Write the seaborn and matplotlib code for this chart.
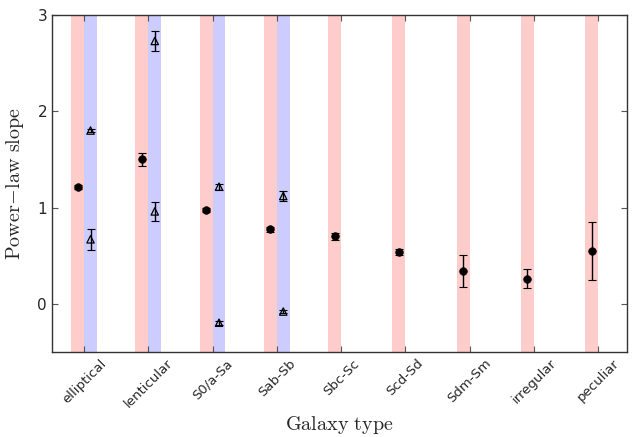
import matplotlib
matplotlib.use("Agg")
import matplotlib.pyplot as plt
import seaborn as sns
import numpy as np
import pandas as pd

categories = ["elliptical", "lenticular", "S0/a-Sa", "Sab-Sb", "Sbc-Sc",
              "Scd-Sd", "Sdm-Sm", "irregular", "peculiar"]
dot_values = [1.21, 1.50, 0.975, 0.776, 0.70, 0.535, 0.34, 0.26, 0.55]
dot_errors = [0.02, 0.07, 0.025, 0.025, 0.04, 0.03, 0.17, 0.10, 0.30]

# triangle series (only first four categories)
tri_categories = ["elliptical", "elliptical", "lenticular", "lenticular",
                  "S0/a-Sa", "S0/a-Sa", "Sab-Sb", "Sab-Sb"]
tri_values = [1.80, 0.67, 2.73, 0.96, 1.217, -0.196, 1.12, -0.08]
tri_errors = [0.02, 0.11, 0.10, 0.10, 0.03, 0.02, 0.05, 0.02]

sns.set_style("ticks")
plt.rcParams["mathtext.fontset"] = "cm"

fig = plt.figure(figsize=(6.33, 4.37), dpi=100)
ax = fig.add_axes([0.0821, 0.1945, 0.9084, 0.7712])

pos = {c: i + 1 for i, c in enumerate(categories)}
w = 0.2
for c in categories:
    x = pos[c]
    ax.axvspan(x - w, x, color="#ffcccc", lw=0, zorder=0)
for c in sorted(set(tri_categories), key=lambda k: pos[k]):
    x = pos[c]
    ax.axvspan(x, x + w, color="#ccccff", lw=0, zorder=0)

df_dot = pd.DataFrame({"x": [pos[c] - w / 2 for c in categories],
                       "y": dot_values, "e": dot_errors})
df_tri = pd.DataFrame({"x": [pos[c] + w / 2 for c in tri_categories],
                       "y": tri_values, "e": tri_errors})

ax.errorbar(df_dot["x"], df_dot["y"], yerr=df_dot["e"], fmt="none",
            ecolor="black", elinewidth=1, capsize=3, capthick=0.8, zorder=2)
ax.errorbar(df_tri["x"], df_tri["y"], yerr=df_tri["e"], fmt="none",
            ecolor="black", elinewidth=1, capsize=3, capthick=0.8, zorder=2)
sns.scatterplot(data=df_dot, x="x", y="y", ax=ax, marker="o", s=30,
                color="black", edgecolor="black", linewidth=0.5, zorder=3)
sns.scatterplot(data=df_tri, x="x", y="y", ax=ax, marker="^", s=28,
                facecolor="none", edgecolor="black", linewidth=0.9, zorder=3)

ax.set_xlim(0.5, 9.45)
ax.set_ylim(-0.5, 3)
ax.set_xticks([pos[c] for c in categories])
ax.set_xticklabels(categories, rotation=45, fontsize=9.5)
ax.set_yticks([0, 1, 2, 3])
ax.set_yticklabels(["0", "1", "2", "3"], fontsize=11)
ax.tick_params(direction="in", top=True, right=True, length=4, width=0.8,
               color="#555555")
for s in ax.spines.values():
    s.set_color("#333333")
    s.set_linewidth(1.0)

ax.set_xlabel(r"$\mathrm{Galaxy\ type}$", fontsize=14.5)
ax.xaxis.set_label_coords(0.5, -0.185)
ax.set_ylabel(r"$\mathrm{Power\!-\!law\ slope}$", fontsize=14.5, labelpad=8)

fig.savefig("out.png", dpi=100)
